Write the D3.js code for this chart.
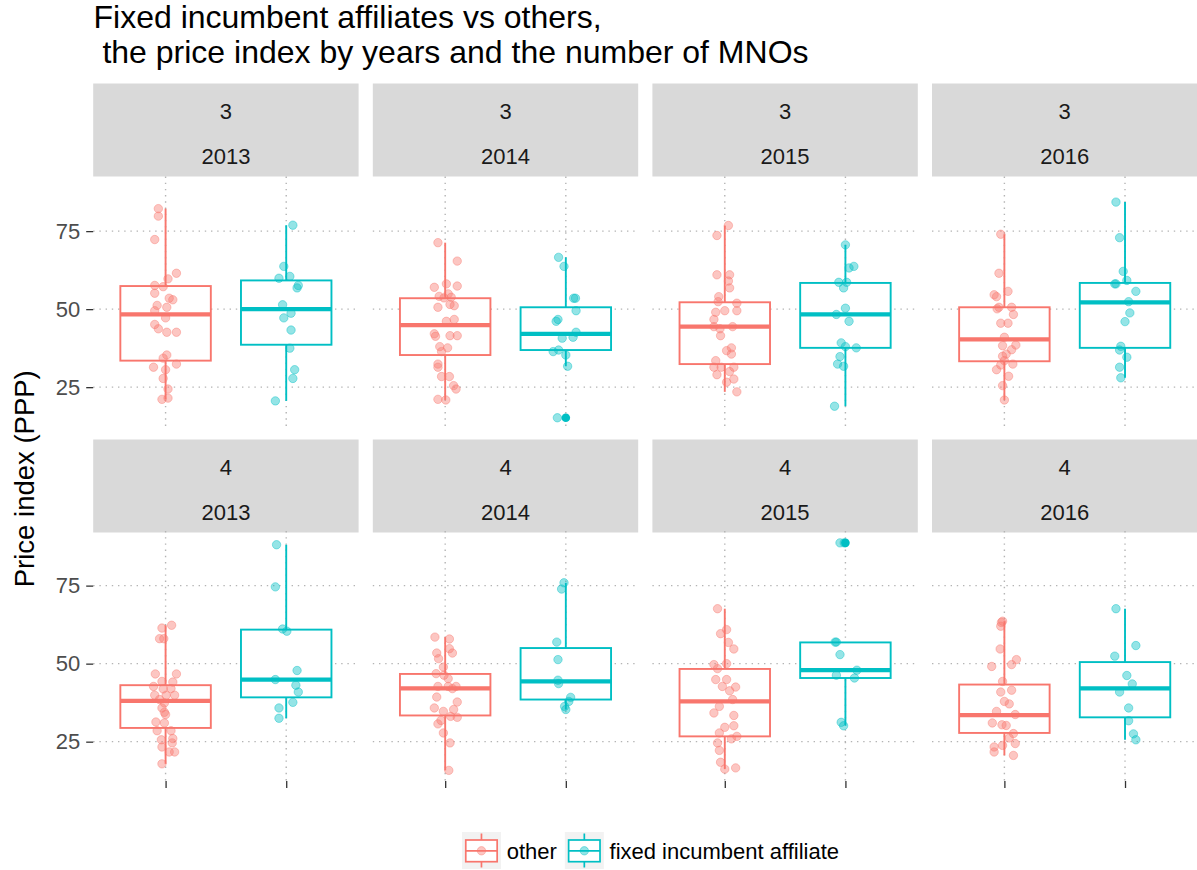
<!DOCTYPE html>
<html><head><meta charset="utf-8">
<script src="https://cdn.jsdelivr.net/npm/d3@7"></script>
<style>
body{margin:0;background:#fff}
svg{display:block}
text{font-family:"Liberation Sans",Arial,Helvetica,sans-serif}
</style>
</head><body>
<svg id="chart" width="1197" height="870"></svg>
<script>
// ---------------- DATA ----------------
const mnos = [3, 4];
const years = [2013, 2014, 2015, 2016];
const groups = ["other", "fixed incumbent affiliate"];
const yTicks = [25, 50, 75];
const titleLines = ["Fixed incumbent affiliates vs others,", " the price index by years and the number of MNOs"];
const yLabel = "Price index (PPP)";

// jittered observations: [price index, horizontal jitter (category units)]
const other_3_2013 = [[82.2,-0.06],[79.8,-0.06],[72.3,-0.09],[61.5,0.09],[59.7,0.02],[57.6,-0.09],[57.2,-0.02],[55.1,-0.09],[53.5,0.03],[53.0,0.06],[51.2,-0.07],[50.6,0.01],[49.5,-0.09],[47.2,0],[45.1,-0.09],[43.7,-0.06],[42.6,0.01],[42.6,0.09],[35.3,0.01],[34.3,-0.02],[31.4,-0.1],[30.6,0],[32.4,0.09],[27.8,-0.02],[24.4,0.02],[21.1,-0.03],[21.5,0.02]];
const fixed_3_2013 = [[76.9,0.055],[63.7,-0.02],[59.9,-0.06],[60.5,0.03],[56.8,0.09],[57.6,0.1],[51.4,-0.03],[48.7,0.04],[47.2,-0.02],[43.3,0.04],[37.5,0.03],[30.6,0.07],[27.8,0.055],[20.6,-0.09]];
const other_3_2014 = [[71.3,-0.06],[65.4,0.10],[58.1,0.01],[57.4,0.10],[57.0,-0.09],[54.9,0.025],[54.1,-0.05],[53.6,-0.01],[53.8,0.05],[51.5,0.04],[51.1,0.075],[50.6,-0.06],[46.1,0.01],[46.7,0.075],[42.1,-0.09],[41.3,-0.08],[41.5,0.04],[41.5,0.10],[38.0,-0.045],[37.6,0.02],[36.4,-0.03],[32.4,-0.06],[31.4,-0.06],[28.4,-0.03],[28.4,0.035],[25.5,0.07],[24.4,0.09],[21.1,-0.06],[20.9,0.005]];
const fixed_3_2014 = [[66.6,-0.06],[63.7,-0.015],[53.5,0.08],[53.5,0.065],[49.5,0.085],[46.7,-0.065],[46.1,-0.08],[42.6,0.085],[40.7,-0.03],[41.0,0.06],[36.4,-0.105],[36.9,-0.06],[35.3,0],[31.7,0.015],[15.2,-0.07]];
const other_3_2015 = [[76.8,0.03],[73.6,-0.065],[61.0,-0.065],[61.0,0.04],[59.0,0.03],[56.8,0.04],[54.0,-0.05],[52.4,-0.055],[51.9,0.10],[49.5,0.10],[49.5,0],[49.0,-0.075],[46.7,-0.09],[44.4,-0.09],[44.4,0.065],[43.7,-0.04],[41.5,-0.035],[37.6,0.055],[36.7,0.015],[35.6,0.055],[33.5,-0.075],[31.4,-0.09],[31.4,-0.03],[31.4,0.075],[29.0,-0.065],[30.0,0.04],[27.6,0.075],[26.6,0.015],[23.5,0.10]];
const fixed_3_2015 = [[70.6,0],[63.7,0.07],[63.2,0.03],[58.6,-0.055],[58.6,0.01],[56.8,-0.015],[50.3,0],[48.3,-0.075],[46.1,0.03],[39.2,-0.035],[38.0,0],[37.6,0.09],[34.8,-0.045],[32.4,-0.065],[31.7,-0.015],[18.9,-0.09]];
const other_3_2016 = [[74.0,-0.03],[61.5,-0.045],[55.7,0.03],[54.6,-0.085],[54.0,-0.065],[50.6,-0.045],[50.6,0.06],[50.1,-0.06],[48.3,0.075],[45.5,-0.03],[45.5,0.03],[41.0,0],[38.3,-0.015],[38.5,0.095],[37.0,0.06],[35.6,0.015],[34.9,-0.015],[33.5,0],[32.4,0.07],[32.1,-0.03],[30.6,-0.065],[28.5,0.035],[25.5,-0.015],[20.9,0]];
const fixed_3_2016 = [[84.3,-0.075],[72.9,-0.045],[62.1,-0.015],[58.1,-0.085],[58.1,-0.075],[59.2,0.015],[55.7,0.09],[52.4,0.03],[48.8,0.04],[46.0,0],[38.1,-0.035],[36.9,-0.045],[34.6,0.015],[31.4,-0.045],[28.0,-0.035]];
const other_4_2013 = [[62.3,0.05],[61.4,-0.03],[58.0,-0.05],[58.0,-0.015],[46.7,-0.085],[46.7,0.09],[44.1,0.06],[44.3,-0.03],[42.7,-0.1],[41.9,-0.02],[42.0,0.045],[39.9,-0.09],[39.9,0.005],[39.9,0.075],[38.5,-0.05],[37.4,-0.01],[35.8,-0.03],[34.4,-0.01],[33.7,0],[31.3,-0.08],[31.0,-0.01],[28.5,-0.07],[28.5,0.045],[25.6,-0.035],[26.0,0.06],[24.6,0.055],[23.3,-0.03],[21.7,0.03],[21.7,0.075],[17.9,-0.03]];
const fixed_4_2013 = [[88.1,-0.08],[74.6,-0.09],[61.1,-0.03],[60.4,0.005],[47.8,0.09],[44.9,-0.09],[43.1,0.08],[40.9,0.1],[37.6,0.055],[35.8,-0.06],[32.5,-0.06]];
const other_4_2014 = [[58.5,-0.085],[57.9,0.035],[54.8,0.035],[53.4,-0.07],[53.4,0.06],[51.6,-0.055],[48.9,-0.015],[46.8,-0.075],[46.3,-0.01],[45.2,0.025],[42.7,-0.06],[42.7,0.025],[42.7,0.09],[42.0,0.06],[39.3,-0.07],[37.7,0.10],[35.8,-0.09],[34.7,-0.015],[35.3,0.07],[33.1,0.045],[32.8,0.10],[31.8,-0.035],[30.7,-0.06],[27.8,-0.015],[24.6,0.04],[15.8,0.03]];
const fixed_4_2014 = [[75.9,-0.015],[73.9,-0.035],[56.9,-0.075],[51.3,-0.065],[44.7,-0.065],[43.6,-0.06],[39.2,0.04],[37.9,0.025],[36.3,-0.01],[35.3,0]];
const other_4_2015 = [[67.6,-0.06],[60.9,0.015],[59.6,-0.035],[56.8,0.03],[54.7,0.075],[49.7,-0.09],[48.4,-0.06],[50.0,0.015],[44.9,-0.075],[44.9,0.015],[42.5,0.09],[42.7,-0.02],[41.3,0.04],[38.5,0.065],[36.3,-0.045],[34.2,-0.09],[33.4,0.075],[30.1,0.075],[29.6,0],[27.8,-0.045],[26.7,0.10],[25.9,0.055],[24.6,-0.06],[22.2,-0.045],[18.4,-0.035],[16.2,0],[16.6,0.09]];
const fixed_4_2015 = [[88.7,-0.045],[88.7,-0.01],[56.9,-0.085],[56.9,-0.075],[52.9,-0.045],[47.9,0.095],[46.3,-0.075],[45.4,0.075],[31.2,-0.035],[30.1,-0.015]];
const other_4_2016 = [[63.6,-0.015],[63.2,-0.025],[62.0,-0.03],[54.7,-0.035],[51.3,0.10],[49.1,-0.105],[49.7,0.06],[44.3,-0.015],[40.9,-0.03],[41.5,0.06],[37.9,0],[37.1,0.04],[34.7,-0.065],[33.7,0.09],[31.0,-0.1],[30.4,-0.02],[30.2,0.015],[27.6,0.075],[26.2,0.04],[23.8,-0.015],[24.4,0.09],[23.3,-0.085],[21.7,-0.085],[20.6,0.075]];
const fixed_4_2016 = [[67.6,-0.075],[55.8,0.09],[52.4,-0.085],[46.2,0.015],[43.5,0.06],[40.9,-0.045],[35.8,0.03],[31.7,0.03],[27.5,0.07],[25.6,0.09]];

// boxplot statistics per panel (3/2013 ... 4/2016): [lower whisker, Q1, median, Q3, upper whisker]
const boxOther = [[21.1,33.5,48.3,57.4,82.2],[20.9,35.3,44.9,53.5,71.3],[23.5,32.4,44.4,52.2,76.8],[20.9,33.3,40.3,50.6,74.0],
                  [17.9,29.4,38.1,43.1,62.3],[15.8,33.4,42.1,46.7,58.5],[16.2,26.7,37.9,48.3,67.6],[20.6,27.8,33.5,43.3,63.6]];
const boxFixed = [[20.6,38.6,50.0,59.2,76.9],[31.7,36.9,42.1,50.6,66.6],[18.9,37.6,48.3,58.4,70.6],[28.0,37.6,52.2,58.4,84.3],
                  [32.5,39.2,44.9,60.9,88.1],[35.3,38.5,44.3,55.0,75.9],[30.1,45.4,47.9,56.8,56.9],[25.6,32.8,42.1,50.5,67.6]];
const outlOther = [[],[],[],[],[],[],[],[]];
const outlFixed = [[],[15.2],[],[],[],[],[88.7],[]];

// ---------------- LAYOUT ----------------
const colors = ["#F8766D", "#00BFC4"];
const svg = d3.select("#chart");
const left0 = 93.2, pw = 265.4, colStep = 279.6;
const stripTops = [83.5, 439.5], stripH = 93;
const panelTops = [176.5, 531], ph = 250;

const x = d3.scalePoint().domain(groups).range([0, pw]).padding(0.6);
const step = x.step();
const y = d3.scaleLinear().domain([12.4, 92.5]).range([ph, 0]);

const ptsOther = [other_3_2013, other_3_2014, other_3_2015, other_3_2016, other_4_2013, other_4_2014, other_4_2015, other_4_2016];
const ptsFixed = [fixed_3_2013, fixed_3_2014, fixed_3_2015, fixed_3_2016, fixed_4_2013, fixed_4_2014, fixed_4_2015, fixed_4_2016];

const panels = [];
mnos.forEach((m, r) => years.forEach((yr, c) => panels.push({m, yr, r, c})));

// title
titleLines.forEach((t, i) => {
  svg.append("text").attr("x", 93.5).attr("y", 28 + i * 35)
    .attr("font-size", 32).attr("fill", "#000").style("white-space", "pre").text(t);
});

// y label
svg.append("text").attr("transform", `translate(34,${(panelTops[0] + panelTops[1] + ph) / 2}) rotate(-90)`)
  .attr("text-anchor", "middle").attr("font-size", 27.5).attr("fill", "#000").text(yLabel);

const gridStyle = sel => sel.attr("stroke", "#b4b4b4").attr("stroke-width", 1.4).attr("stroke-dasharray", "1.4 4.8");

panels.forEach((p, i) => {
  const gx = left0 + p.c * colStep;
  // strip
  svg.append("rect").attr("x", gx).attr("y", stripTops[p.r]).attr("width", pw).attr("height", stripH).attr("fill", "#D9D9D9");
  svg.append("text").attr("x", gx + pw / 2).attr("y", stripTops[p.r] + 35.6).attr("text-anchor", "middle")
    .attr("font-size", 22).attr("fill", "#1A1A1A").text(p.m);
  svg.append("text").attr("x", gx + pw / 2).attr("y", stripTops[p.r] + 80.3).attr("text-anchor", "middle")
    .attr("font-size", 22).attr("fill", "#1A1A1A").text(p.yr);

  const g = svg.append("g").attr("transform", `translate(${gx},${panelTops[p.r]})`);
  // grid
  yTicks.forEach(t => g.append("line").attr("x1", 0).attr("x2", pw).attr("y1", y(t)).attr("y2", y(t)).call(gridStyle));
  groups.forEach(gr => g.append("line").attr("x1", x(gr)).attr("x2", x(gr)).attr("y1", 0).attr("y2", ph).call(gridStyle));

  const boxes = [boxOther[i], boxFixed[i]];
  const pts = [ptsOther[i], ptsFixed[i]];
  const outl = [outlOther[i], outlFixed[i]];
  groups.forEach((gr, k) => {
    const cx = x(gr), s = boxes[k], col = colors[k], bw = 0.75 * step;
    g.append("line").attr("x1", cx).attr("x2", cx).attr("y1", y(s[4])).attr("y2", y(s[3])).attr("stroke", col).attr("stroke-width", 1.9);
    g.append("line").attr("x1", cx).attr("x2", cx).attr("y1", y(s[1])).attr("y2", y(s[0])).attr("stroke", col).attr("stroke-width", 1.9);
    g.append("rect").attr("x", cx - bw / 2).attr("y", y(s[3])).attr("width", bw).attr("height", y(s[1]) - y(s[3]))
      .attr("fill", "#fff").attr("stroke", col).attr("stroke-width", 1.9);
    g.append("line").attr("x1", cx - bw / 2).attr("x2", cx + bw / 2).attr("y1", y(s[2])).attr("y2", y(s[2]))
      .attr("stroke", col).attr("stroke-width", 4.3);
    g.selectAll(null).data(outl[k]).enter().append("circle")
      .attr("cx", cx).attr("cy", d => y(d)).attr("r", 4.3).attr("fill", col);
    g.selectAll(null).data(pts[k]).enter().append("circle")
      .attr("cx", d => cx + d[1] * step).attr("cy", d => y(d[0])).attr("r", 4.2)
      .attr("fill", col).attr("fill-opacity", 0.42)
      .attr("stroke", col).attr("stroke-opacity", 0.42).attr("stroke-width", 1);
  });
});

// y axes (first column)
mnos.forEach((m, r) => {
  const ax = svg.append("g").attr("transform", `translate(${left0},${panelTops[r]})`)
    .call(d3.axisLeft(y).tickValues(yTicks).tickSize(7).tickPadding(6));
  ax.select(".domain").remove();
  ax.selectAll(".tick line").attr("stroke", "#333").attr("stroke-width", 1.3);
  ax.selectAll(".tick text").attr("fill", "#4D4D4D").attr("font-size", 22)
    .attr("font-family", '"Liberation Sans",Arial,sans-serif');
});
// x axes (bottom row)
years.forEach((yr, c) => {
  const ax = svg.append("g").attr("transform", `translate(${left0 + c * colStep},${panelTops[1] + ph})`)
    .call(d3.axisBottom(x).tickSize(7).tickFormat(() => ""));
  ax.select(".domain").remove();
  ax.selectAll(".tick line").attr("stroke", "#333").attr("stroke-width", 1.3);
});

// legend
const keyW = 39, keyH = 37, keyY = 832, gapT = 5.7, gapK = 8;
const lg = svg.append("g");
const labels = groups.map(gr => lg.append("text").attr("font-size", 22).attr("fill", "#000").text(gr));
const widths = labels.map(l => l.node().getComputedTextLength());
const total = groups.length * (keyW + gapT) + d3.sum(widths) + gapK * (groups.length - 1);
let cur = 650.5 - total / 2;
groups.forEach((gr, k) => {
  const col = colors[k];
  const kx = cur;
  lg.append("rect").attr("x", kx).attr("y", keyY).attr("width", keyW).attr("height", keyH).attr("fill", "#F2F2F2");
  const mx = kx + keyW / 2;
  lg.append("line").attr("x1", mx).attr("x2", mx).attr("y1", keyY + 1.5).attr("y2", keyY + 35.5).attr("stroke", col).attr("stroke-width", 1.7);
  lg.append("rect").attr("x", kx + 3.8).attr("y", keyY + 8).attr("width", keyW - 7.6).attr("height", 21.7)
    .attr("fill", "#fff").attr("stroke", col).attr("stroke-width", 1.7);
  lg.append("line").attr("x1", kx + 3.8).attr("x2", kx + keyW - 3.8).attr("y1", keyY + 18.8).attr("y2", keyY + 18.8)
    .attr("stroke", col).attr("stroke-width", 1.7);
  lg.append("circle").attr("cx", mx).attr("cy", keyY + 18.8).attr("r", 4.2).attr("fill", col).attr("fill-opacity", 0.42)
    .attr("stroke", col).attr("stroke-opacity", 0.42);
  labels[k].attr("x", kx + keyW + gapT).attr("y", keyY + 18.8 + 7.9);
  cur = kx + keyW + gapT + widths[k] + gapK;
});
</script>
</body></html>
